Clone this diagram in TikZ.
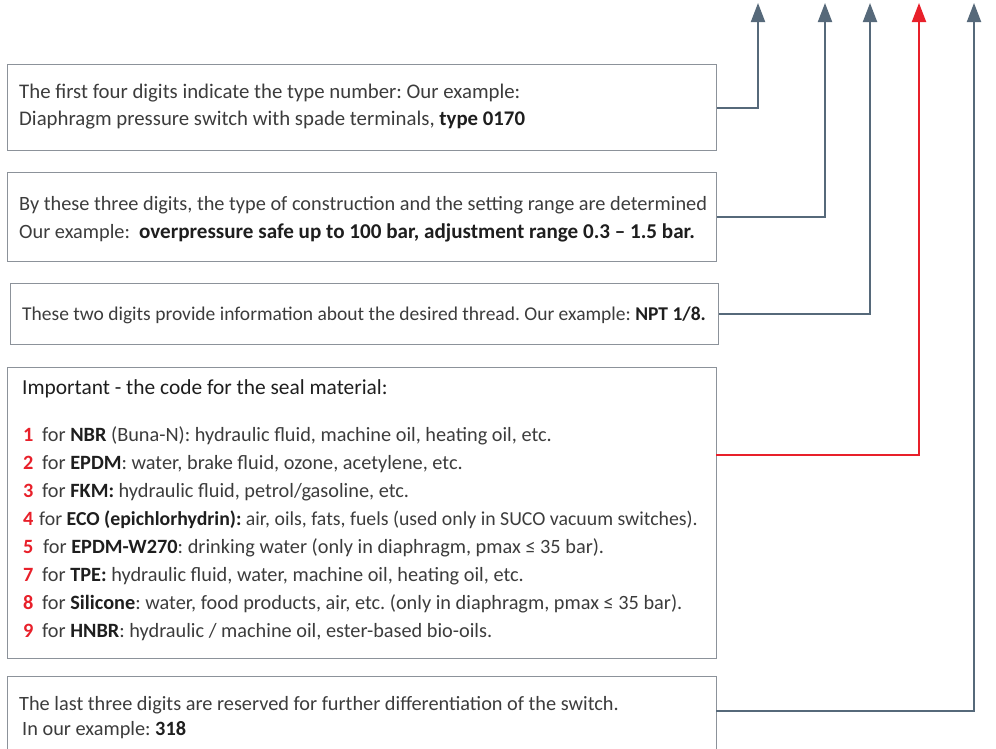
\documentclass[tikz,border=0pt]{standalone}
\usepackage{fontspec}
\setmainfont{Carlito}
\usetikzlibrary{arrows.meta}
\definecolor{boxgray}{HTML}{8C929A}
\definecolor{slate}{HTML}{56697A}
\definecolor{sred}{HTML}{E8202A}
\definecolor{txtgray}{HTML}{3C3C3C}
\definecolor{txtdark}{HTML}{1E1E1E}
\newcommand{\bld}[1]{{\bfseries\color{txtdark}#1}}
\newcommand{\fsz}[1]{\fontsize{#1}{#1}\selectfont}
\frenchspacing
\begin{document}
\begin{tikzpicture}[x=1pt,y=-1pt,
  box/.style={draw=boxgray,line width=1.2pt,inner sep=0,anchor=north west},
  conn/.style={draw=slate,line width=2pt,-{Triangle[width=14pt,length=19pt]}},
  txt/.style={anchor=base west,inner sep=0,text=txtgray,font=\fsz{20.3}},
  num/.style={anchor=base west,inner sep=0,text=sred,font=\fsz{20.3}\bfseries}]
\useasboundingbox (0,0) rectangle (996,748);
\clip (0,0) rectangle (996,748);
% boxes
\node[box,minimum width=709pt,minimum height=86pt] (b1) at (7,64) {};
\node[box,minimum width=709pt,minimum height=89pt] (b2) at (7,172) {};
\node[box,minimum width=708pt,minimum height=61pt] (b3) at (10,283) {};
\node[box,minimum width=709pt,minimum height=291pt] (b4) at (7,367) {};
\node[box,minimum width=709pt,minimum height=80pt] (b5) at (7,676) {};
% arrow tips and starts
\coordinate (t1) at (758,3);
\coordinate (t2) at (825,3);
\coordinate (t3) at (870,3);
\coordinate (t4) at (919,3);
\coordinate (t5) at (974,3);
\coordinate (s4) at (716,455);
\coordinate (s5) at (716,711);
\draw[conn] (b1.east) -| (t1);
\draw[conn] (b2.east) -| (t2);
\draw[conn] (b3.east) -| (t3);
\draw[conn,draw=sred] (s4) -| (t4);
\draw[conn] (s5) -| (t5);
% texts
\node[txt,font=\fsz{20.8}] (l11) at (19,98) {The first four digits indicate the type number: Our example:};
\node[txt,font=\fsz{20.8}] (l12) at (19,125) {Diaphragm pressure switch with spade terminals, \bld{type 0170}};
\node[txt] (l21) at (19,210) {By these three digits, the type of construction and the setting range are determined};
\node[txt] (l22) at (19,238) {Our example:\ \ {\fsz{21.1}\bld{overpressure safe up to 100 bar, adjustment range 0.3 -- 1.5 bar.}}};
\node[txt,font=\fsz{19.5}] (l31) at (22,320) {These two digits provide information about the desired thread. Our example: \bld{NPT 1/8.}};
\node[txt,text=txtdark,font=\fsz{21.4}] (h4) at (22,394) {Important - the code for the seal material:};
\node[num] (n1) at (23,441) {1};
\node[txt] (i1) at (42,441) {for \bld{NBR} (Buna-N): hydraulic fluid, machine oil, heating oil, etc.};
\node[num] (n2) at (23,469) {2};
\node[txt] (i2) at (42,469) {for \bld{EPDM}: water, brake fluid, ozone, acetylene, etc.};
\node[num] (n3) at (23,497) {3};
\node[txt] (i3) at (42,497) {for \bld{FKM:} hydraulic fluid, petrol/gasoline, etc.};
\node[num] (n4) at (23,525) {4};
\node[txt,font=\fsz{19.8}] (i4) at (39,525) {for \bld{ECO (epichlorhydrin):} air, oils, fats, fuels (used only in SUCO vacuum switches).};
\node[num] (n5) at (23,553) {5};
\node[txt] (i5) at (43,553) {for \bld{EPDM-W270}: drinking water (only in diaphragm, pmax ≤ 35 bar).};
\node[num] (n7) at (23,581) {7};
\node[txt] (i7) at (42,581) {for \bld{TPE:} hydraulic fluid, water, machine oil, heating oil, etc.};
\node[num] (n8) at (23,609) {8};
\node[txt] (i8) at (42,609) {for \bld{Silicone}: water, food products, air, etc. (only in diaphragm, pmax ≤ 35 bar).};
\node[num] (n9) at (23,637) {9};
\node[txt] (i9) at (42,637) {for \bld{HNBR}: hydraulic / machine oil, ester-based bio-oils.};
\node[txt] (l51) at (19,710) {The last three digits are reserved for further differentiation of the switch.};
\node[txt] (l52) at (22,735) {In our example: \bld{318}};
\end{tikzpicture}
\end{document}
